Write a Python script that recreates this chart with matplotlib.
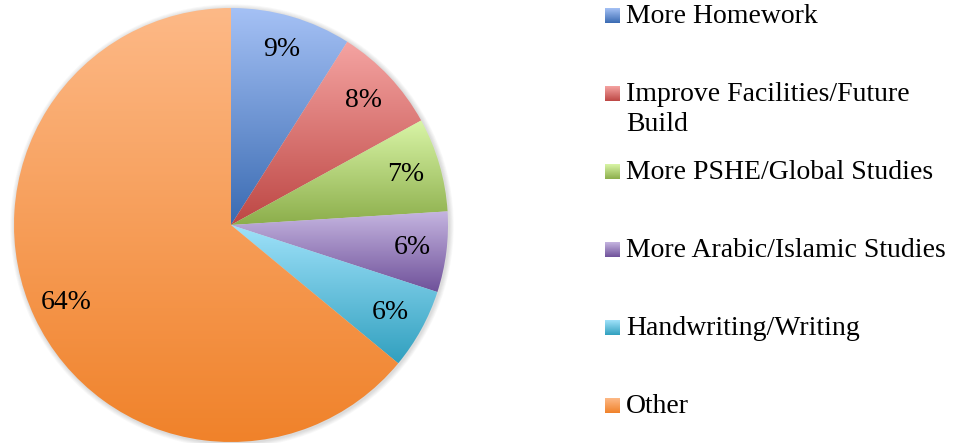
import numpy as np
import matplotlib
matplotlib.use("Agg")
import matplotlib.pyplot as plt
from matplotlib.colors import to_rgb

# Chart data
labels = ["More Homework", "Improve Facilities/Future\nBuild", "More PSHE/Global Studies",
          "More Arabic/Islamic Studies", "Handwriting/Writing", "Other"]
values = [9, 8, 7, 6, 6, 64]
# gradient colours per slice: (top/light, bottom/dark)
top_colors = ["#a5c1f5", "#f5a4a2", "#d9f5a7", "#c5b5e0", "#a0e2fa", "#fdb987"]
bottom_colors = ["#3a6bb2", "#bd4744", "#8cae4b", "#6f519a", "#31a0bf", "#f0822a"]

FONT = "Liberation Serif"
FS = 20
W, H = 954, 443
fig = plt.figure(figsize=(W / 100, H / 100), dpi=100)
ax = fig.add_axes([0, 0, 1, 1])

cx, cy, R = 231, H - 225, 217


def gradient(c1, c2, n=256):
    a, b = np.array(to_rgb(c1)), np.array(to_rgb(c2))
    t = np.linspace(0, 1, n)[:, None]
    return (a + (b - a) * t)[:, None, :]


# soft shadow around the pie
for k in range(6, 0, -1):
    ax.add_patch(plt.Circle((cx + 1, cy - 1), R + k * 0.8, color="#000000",
                            alpha=0.025, lw=0, zorder=0))

wedges, texts, autotexts = ax.pie(
    values, center=(cx, cy), radius=R, startangle=90, counterclock=False,
    autopct="%1.0f%%", pctdistance=0.84, frame=True,
    wedgeprops=dict(linewidth=0),
    textprops=dict(fontsize=FS, family=FONT, color="black"))

for w, c1, c2 in zip(wedges, top_colors, bottom_colors):
    ext = w.get_path().get_extents()
    im = ax.imshow(gradient(c1, c2), extent=(ext.x0, ext.x1, ext.y0, ext.y1),
                   aspect="auto", zorder=1, interpolation="bilinear")
    im.set_clip_path(w)
    w.set_facecolor("none")
for t in autotexts:
    t.set_zorder(3)

# legend
sq = 15
for i, (lab, c1, c2) in enumerate(zip(labels, top_colors, bottom_colors)):
    yc = H - (15.5 + 78 * i)
    ax.imshow(gradient(c1, c2), extent=(605, 605 + sq, yc - sq / 2, yc + sq / 2),
              aspect="auto", zorder=2)
    for j, line in enumerate(lab.split("\n")):
        ax.text(626, yc - sq / 2 - 30 * j, line, fontsize=FS, family=FONT,
                va="baseline", ha="left")

ax.set_xlim(0, W)
ax.set_ylim(0, H)
ax.set_aspect("auto")
ax.axis("off")
fig.savefig("out.png", dpi=100)
